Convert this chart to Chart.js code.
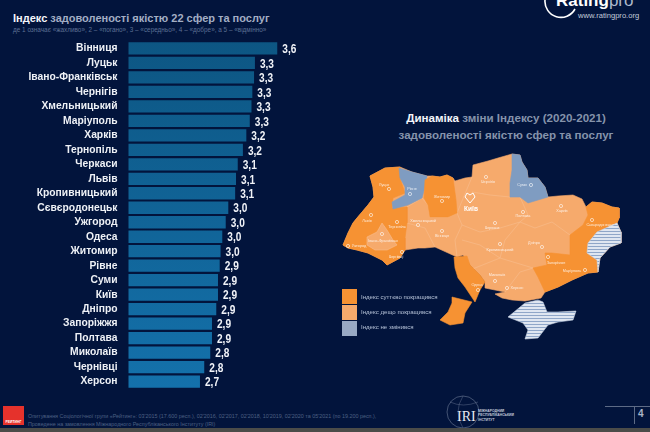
<!DOCTYPE html>
<html lang="uk">
<head>
<meta charset="utf-8">
<title>Індекс задоволеності</title>
<script src="https://cdn.jsdelivr.net/npm/chart.js@4"></script>
<style>
html, body { margin: 0; padding: 0; }
body { width: 650px; height: 432px; overflow: hidden; position: relative; background: #02143c; font-family: "Liberation Sans", Arial, sans-serif; }
canvas { position: absolute; }
.txt { position: absolute; white-space: nowrap; }
#title { left: 13px; top: 12px; font-size: 11px; font-weight: bold; color: #a3aec4; }
#title b, #mapTitle b { color: #f4f6fa; }
#subtitle { left: 13px; top: 25.5px; font-size: 6.4px; color: #5d7094; }
#mapTitle { left: 325px; width: 362px; top: 109px; font-size: 11.6px; font-weight: bold; line-height: 17px; color: #8593ab; text-align: center; }
#footer { left: 28px; top: 412px; font-size: 5.4px; line-height: 8px; color: #4d6083; }
#bottomStripe { position: absolute; left: 0; top: 428px; width: 650px; height: 4px; background: #4b4c49; }
#redBox { position: absolute; left: 3px; top: 406px; width: 21px; height: 19px; background: #e5322c; }
#redBox span { position: absolute; left: 0; width: 21px; top: 14px; font-size: 3.4px; color: #fff; text-align: center; font-weight: bold; }
.legendBox { position: absolute; left: 342px; width: 15px; height: 15px; }
.legendText { left: 361px; font-size: 6.1px; color: #b4c0d6; }
#site { left: 578px; top: 11px; font-size: 7.6px; color: #c3cbda; }
#brand { left: 556px; top: -9px; font-size: 17px; font-weight: bold; color: #fff; }
#brand span { font-weight: normal; color: #aeb8cb; }
#iri { left: 457px; top: 409px; font-family: "Liberation Serif", serif; font-size: 14px; color: #e6eaf2; }
#iriText { left: 478px; top: 409px; font-size: 3.4px; line-height: 4.4px; color: #c2cada; font-weight: bold; }
#pageLine { position: absolute; left: 605px; top: 406px; width: 45px; height: 1px; background: #5d6b86; }
#pageBar { position: absolute; left: 634px; top: 406px; width: 1px; height: 18px; background: #5d6b86; }
#pageNo { left: 638px; top: 408px; font-size: 10px; font-weight: bold; color: #aab5c8; }
svg { position: absolute; left: 0; top: 0; }
</style>
</head>
<body>
<svg width="650" height="432">
  <path d="M545 0 A16 16 0 0 0 575 9" fill="none" stroke="#fff" stroke-width="1.6"/>
  <circle cx="463" cy="412" r="16" fill="none" stroke="#5e6d8a" stroke-width="0.7"/>
  <path d="M450 402 Q463 408 478 402 M463 396 Q453 412 463 428" fill="none" stroke="#5e6d8a" stroke-width="0.5"/>
</svg>
<div class="txt" id="brand">Rating<span>pro</span></div>
<div class="txt" id="site">www.ratingpro.org</div>

<div class="txt" id="title"><b>Індекс</b> задоволеності якістю 22 сфер та послуг</div>
<div class="txt" id="subtitle">де 1 означає «жахливо», 2 – «погано», 3 – «середньо», 4 – «добре», а 5 – «відмінно»</div>
<canvas id="barChart" width="325" height="382" style="left:0;top:24px"></canvas>

<div class="txt" id="mapTitle"><b>Динаміка</b> зміни Індексу (2020-2021)<br>задоволеності якістю сфер та послуг</div>
<canvas id="mapChart" width="325" height="220" style="left:325px;top:130px"></canvas>

<div class="legendBox" style="top:289px;background:#f69233"></div>
<div class="legendBox" style="top:305px;background:#f6aa6c"></div>
<div class="legendBox" style="top:321px;background:#98a9c3"></div>
<div class="txt legendText" style="top:293px">Індекс суттєво покращився</div>
<div class="txt legendText" style="top:308px">Індекс дещо покращився</div>
<div class="txt legendText" style="top:323px">Індекс не змінився</div>

<div id="redBox"><span>РЕЙТИНГ</span></div>
<div class="txt" id="footer">Опитування Соціологічної групи «Рейтинг»: 03'2015 (17.600 респ.), 02'2016, 02'2017, 02'2018, 10'2019, 02'2020 та 05'2021 (по 19.200 респ.),<br>Проведене на замовлення Міжнародного Республіканського Інституту (IRI)</div>
<div class="txt" id="iri">IRI</div>
<div class="txt" id="iriText">МІЖНАРОДНИЙ<br>РЕСПУБЛІКАНСЬКИЙ<br>ІНСТИТУТ</div>
<div id="pageLine"></div>
<div id="pageBar"></div>
<div class="txt" id="pageNo">4</div>
<div id="bottomStripe"></div>

<script>
const cities = ['Вінниця', 'Луцьк', 'Івано-Франківськ', 'Чернігів', 'Хмельницький', 'Маріуполь', 'Харків', 'Тернопіль', 'Черкаси', 'Львів', 'Кропивницький', 'Сєвєродонецьк', 'Ужгород', 'Одеса', 'Житомир', 'Рівне', 'Суми', 'Київ', 'Дніпро', 'Запоріжжя', 'Полтава', 'Миколаїв', 'Чернівці', 'Херсон'];
// bar lengths, a bit finer than the printed labels
const barValues = [3.60, 3.34, 3.33, 3.31, 3.30, 3.28, 3.24, 3.20, 3.14, 3.12, 3.11, 3.03, 3.00, 2.96, 2.94, 2.93, 2.91, 2.91, 2.89, 2.84, 2.84, 2.82, 2.75, 2.70];
const printedValues = ['3,6', '3,3', '3,3', '3,3', '3,3', '3,3', '3,2', '3,2', '3,1', '3,1', '3,1', '3,0', '3,0', '3,0', '3,0', '2,9', '2,9', '2,9', '2,9', '2,9', '2,9', '2,8', '2,8', '2,7'];

// map outlines, traced in map units
const landOutline = [[343,245],[348,233],[353,223],[357,218],[368,205],[374,197],[373,187],[370,176],[385,168],[400,167],[412,172],[427,176],[432,176],[440,177],[447,175],[453,178],[455,181],[465,178],[472,177],[473,165],[488,161],[498,158],[512,154],[520,155],[522,162],[527,170],[528,178],[538,178],[545,187],[548,197],[558,196],[573,195],[582,199],[586,207],[592,202],[602,203],[612,207],[619,208],[619,218],[617,223],[621,232],[621,243],[610,247],[600,258],[598,272],[588,273],[572,280],[558,287],[545,292],[541,298],[525,301],[512,300],[502,298],[495,294],[505,292],[490,289],[485,288],[485,282],[480,275],[470,265],[463,255],[457,257],[435,247],[425,248],[418,248],[405,250],[400,258],[387,265],[382,260],[368,253],[357,250],[348,248],[343,245]];
const westRegions = [[343,245],[348,233],[353,223],[357,218],[368,205],[374,197],[373,187],[370,176],[385,168],[400,167],[400,178],[405,193],[393,198],[392,208],[407,207],[407,223],[405,238],[405,250],[400,258],[387,265],[382,260],[368,253],[357,250],[348,248],[343,245]];
const frankivskRegion = [[382,223],[387,230],[393,240],[397,245],[387,250],[375,250],[367,245],[367,237],[377,232],[382,223]];
const rivneRegion = [[399,168],[412,172],[427,176],[425,187],[422,198],[408,205],[393,209],[392,202],[405,195],[405,187],[400,178],[399,168]];
const zhytomyrRegion = [[425,180],[432,176],[440,177],[447,175],[453,178],[456,200],[457,213],[448,217],[430,217],[428,205],[424,198],[425,180]];
const sumyRegion = [[512,154],[520,155],[522,162],[527,170],[528,178],[538,178],[545,187],[548,197],[538,200],[528,203],[520,197],[510,197],[510,183],[512,170],[512,154]];
const eastRegions = [[586,207],[592,202],[602,203],[612,207],[619,208],[619,218],[617,223],[597,232],[588,243],[587,253],[597,260],[598,272],[588,273],[572,280],[558,287],[545,292],[538,277],[533,268],[547,265],[545,253],[552,253],[570,255],[570,235],[583,225],[588,215],[586,207]];
const odesaRegion = [[454,257],[467,256],[470,265],[480,275],[485,282],[480,290],[475,302],[465,287],[458,278],[455,268],[454,257]];
const budzhakRegion = [[452,297],[472,302],[465,313],[463,323],[450,325],[440,320],[448,312],[452,303],[452,297]];
const donbasOccupied = [[617,223],[621,232],[621,243],[610,247],[600,258],[598,272],[597,260],[587,253],[588,243],[597,232],[617,223]];
const crimea = [[508,317],[525,303],[538,300],[543,302],[547,312],[558,312],[576,311],[573,320],[558,322],[548,325],[538,338],[525,339],[528,330],[523,323],[508,317]];
const heart = [[470,203],[465,197],[467,193],[470,195],[473,193],[475,197],[470,203]];
const innerBorders = [
    [[407,207],[422,198],[428,205],[430,217],[448,217],[457,213],[462,225],[455,240],[457,257]],
    [[407,223],[425,228],[435,247]],
    [[457,213],[472,177]],
    [[472,192],[490,195],[510,197]],
    [[462,225],[480,232],[500,228],[520,222],[535,228],[552,222],[570,235]],
    [[520,197],[528,215],[520,222]],
    [[470,270],[500,258],[533,268]],
    [[462,240],[480,245],[500,258],[505,240],[520,222]],
    [[505,292],[520,272],[533,268]]
];

const mapCities = ['Луцьк', 'Рівне', 'Житомир', 'Чернігів', 'Суми', 'Харків', 'Полтава', 'Черкаси', 'Вінниця', 'Хмельницький', 'Тернопіль', 'Львів', 'Ужгород', 'Чернівці', 'Кропивницький', 'Дніпро', 'Запоріжжя', 'Маріуполь', 'Сєвєродонецьк', 'Миколаїв', 'Херсон', 'Одеса', 'Івано-Франківськ'];
const cityPoints = [[389,189],[410,194],[442,201],[486,177],[531,185],[561,206],[523,212],[495,223],[442,231],[418,225],[397,222],[371,215],[348,246],[402,252],[500,244],[542,247],[548,257],[585,270],[592,220],[495,281],[507,288],[478,290],[382,234]];
const cityLabelPoints = [[384,185],[412,189],[442,197],[488,182],[522,185],[562,211],[523,216],[492,228],[442,236],[423,221],[397,227],[367,221],[359,246],[396,257],[500,250],[534,243],[556,263],[572,271],[600,225],[497,275],[517,288],[477,285],[383,241]];

function toXY(pairs) {
    return pairs.map(p => ({ x: p[0], y: p[1] }));
}

// value labels beside each bar, squeezed to look like the narrow face of the original
const barValuePlugin = {
    id: 'barValues',
    afterDatasetsDraw(chart) {
        const ctx = chart.ctx;
        ctx.font = 'bold 13.5px "Liberation Sans", sans-serif';
        ctx.fillStyle = '#f1f3f8';
        ctx.textBaseline = 'middle';
        chart.getDatasetMeta(0).data.forEach((bar, i) => {
            ctx.save();
            ctx.translate(bar.x + 5, bar.y + 1);
            ctx.scale(0.75, 1);
            ctx.fillText(printedValues[i], 0, 0);
            ctx.restore();
        });
    }
};

const barCtx = document.getElementById('barChart').getContext('2d');
const barGradient = barCtx.createLinearGradient(0, 17, 0, 365);
barGradient.addColorStop(0, '#0d5683');
barGradient.addColorStop(1, '#1471ab');

new Chart(barCtx, {
    type: 'bar',
    data: {
        labels: cities,
        datasets: [{
            data: barValues,
            backgroundColor: barGradient,
            barPercentage: 0.85,
            categoryPercentage: 1
        }]
    },
    options: {
        indexAxis: 'y',
        responsive: false,
        animation: false,
        layout: { padding: 0, autoPadding: false },
        plugins: { legend: { display: false }, tooltip: { enabled: false } },
        scales: {
            x: { display: false, min: 1.868, max: 4.156 },
            y: {
                afterFit(scale) { scale.width = 128.5; },
                grid: { display: false, drawTicks: false },
                border: { display: false },
                ticks: {
                    color: '#eef1f6',
                    padding: 11,
                    autoSkip: false,
                    font: { family: '"Liberation Sans", sans-serif', weight: 'bold', size: 10.3 }
                }
            }
        }
    },
    plugins: [barValuePlugin]
});

// fills each outline through the scale-mapped points, small names on top
const mapPaintPlugin = {
    id: 'mapPaint',
    beforeDatasetDraw(chart, args) {
        const fill = chart.data.datasets[args.index].areaFill;
        if (!fill) return;
        const ctx = chart.ctx;
        ctx.save();
        ctx.beginPath();
        args.meta.data.forEach((pt, i) => {
            if (i === 0) ctx.moveTo(pt.x, pt.y);
            else ctx.lineTo(pt.x, pt.y);
        });
        ctx.closePath();
        ctx.fillStyle = fill;
        ctx.fill();
        ctx.restore();
    },
    afterDatasetsDraw(chart) {
        const ctx = chart.ctx;
        const sx = chart.scales.x;
        const sy = chart.scales.y;
        ctx.save();
        ctx.textAlign = 'center';
        ctx.textBaseline = 'middle';
        ctx.font = '3.8px "Liberation Sans", sans-serif';
        ctx.fillStyle = 'rgba(255,255,255,0.8)';
        mapCities.forEach((name, i) => {
            ctx.fillText(name, sx.getPixelForValue(cityLabelPoints[i][0]), sy.getPixelForValue(cityLabelPoints[i][1]));
        });
        ctx.font = 'bold 6.5px "Liberation Sans", sans-serif';
        ctx.fillStyle = '#fff';
        ctx.fillText('Київ', sx.getPixelForValue(471), sy.getPixelForValue(209));
        ctx.restore();
    }
};

function stripes() {
    const c = document.createElement('canvas');
    c.width = 4;
    c.height = 3;
    const g = c.getContext('2d');
    g.fillStyle = '#dfe6f1';
    g.fillRect(0, 0, 4, 3);
    g.fillStyle = '#8fa6c8';
    g.fillRect(0, 2, 4, 1);
    return document.getElementById('mapChart').getContext('2d').createPattern(c, 'repeat');
}

function area(points, fill, border) {
    return {
        data: toXY(points),
        showLine: true,
        fill: false,
        areaFill: fill,
        borderColor: border || fill,
        borderWidth: 0.6,
        pointRadius: 0,
        tension: 0
    };
}

function line(points) {
    return {
        data: toXY(points),
        showLine: true,
        fill: false,
        borderColor: '#f8bd8e',
        borderWidth: 0.6,
        pointRadius: 0,
        tension: 0
    };
}

const dark = '#f69233';
const light = '#f6aa6c';
const blue = '#7f9cc1';
const stripeFill = stripes();

const mapDatasets = [
    area(landOutline, light),
    ...innerBorders.map(line),
    area(westRegions, dark),
    area(frankivskRegion, light, '#f8bd8e'),
    area(rivneRegion, blue),
    area(zhytomyrRegion, dark),
    area(sumyRegion, blue),
    area(eastRegions, dark),
    area(odesaRegion, dark),
    area(budzhakRegion, dark),
    area(donbasOccupied, stripeFill, '#c9d5e6'),
    area(crimea, stripeFill, '#c9d5e6'),
    {
        data: toXY(cityPoints),
        pointRadius: 1.6,
        pointBackgroundColor: 'rgba(0,0,0,0)',
        pointBorderColor: '#fdfdfd',
        pointBorderWidth: 0.6
    },
    {
        data: toXY(heart),
        showLine: true,
        fill: false,
        borderColor: '#ffffff',
        borderWidth: 1,
        pointRadius: 0,
        tension: 0
    }
];
// later sets should paint over earlier ones
mapDatasets.forEach((d, i) => { d.order = mapDatasets.length - i; });

new Chart(document.getElementById('mapChart'), {
    type: 'scatter',
    data: { datasets: mapDatasets },
    options: {
        responsive: false,
        animation: false,
        layout: { padding: 0, autoPadding: false },
        plugins: { legend: { display: false }, tooltip: { enabled: false } },
        scales: {
            x: { display: false, min: 325, max: 650 },
            y: { display: false, min: 130, max: 350, reverse: true }
        }
    },
    plugins: [mapPaintPlugin]
});
</script>
</body>
</html>
